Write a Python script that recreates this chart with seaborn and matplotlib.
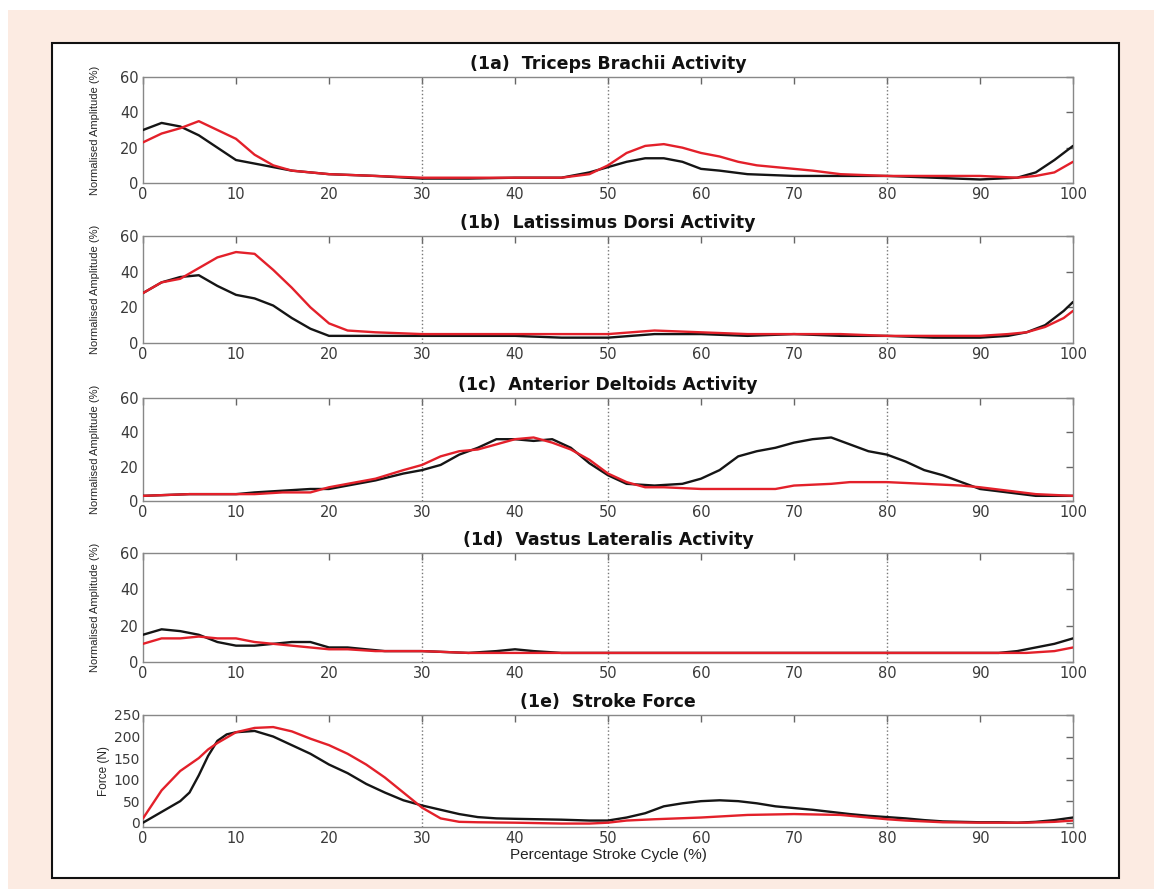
import matplotlib
matplotlib.use("Agg")
import matplotlib.pyplot as plt
import seaborn as sns
from matplotlib.patches import Rectangle

sns.set_theme(style="white")
plt.rcParams["font.family"] = ["DejaVu Sans"]

# Stroke cycle (%) sample points and values
# (1a) Triceps Brachii
tri_x_black = [0, 2, 4, 6, 8, 10, 12, 14, 16, 18, 20, 25, 30, 35, 40, 45, 48, 50, 52, 54, 56, 58,
               60, 62, 65, 70, 75, 80, 85, 90, 94, 96, 98, 100]
tri_black = [30, 34, 32, 27, 20, 13, 11, 9, 7, 6, 5, 4, 2.5, 2.5, 3, 3, 6, 9, 12, 14, 14, 12,
             8, 7, 5, 4, 4, 4, 3, 2, 3, 6, 13, 21]
tri_x_red = [0, 2, 4, 6, 8, 10, 12, 14, 16, 18, 20, 25, 30, 35, 40, 45, 48, 50, 52, 54, 56, 58,
             60, 62, 64, 66, 68, 70, 72, 75, 80, 85, 90, 94, 96, 98, 100]
tri_red = [23, 28, 31, 35, 30, 25, 16, 10, 7, 6, 5, 4, 3, 3, 3, 3, 5, 10, 17, 21, 22, 20,
           17, 15, 12, 10, 9, 8, 7, 5, 4, 4, 4, 3, 4, 6, 12]

# (1b) Latissimus Dorsi
lat_x_black = [0, 2, 4, 6, 8, 10, 12, 14, 16, 18, 20, 25, 30, 35, 40, 45, 50, 55, 60, 65, 70,
               75, 80, 85, 90, 93, 95, 97, 99, 100]
lat_black = [28, 34, 37, 38, 32, 27, 25, 21, 14, 8, 4, 4, 4, 4, 4, 3, 3, 5, 5, 4, 5,
             4, 4, 3, 3, 4, 6, 10, 18, 23]
lat_x_red = [0, 2, 4, 6, 8, 10, 12, 14, 16, 18, 20, 22, 25, 30, 35, 40, 45, 50, 55, 60, 65,
             70, 75, 80, 85, 90, 93, 95, 97, 99, 100]
lat_red = [28, 34, 36, 42, 48, 51, 50, 41, 31, 20, 11, 7, 6, 5, 5, 5, 5, 5, 7, 6, 5,
           5, 5, 4, 4, 4, 5, 6, 9, 14, 18]

# (1c) Anterior Deltoids
del_x_black = [0, 5, 10, 12, 15, 18, 20, 22, 25, 28, 30, 32, 34, 36, 38, 40, 42, 44, 46, 48,
               50, 52, 55, 58, 60, 62, 64, 66, 68, 70, 72, 74, 76, 78, 80, 82, 84, 86, 88,
               90, 93, 96, 100]
del_black = [3, 4, 4, 5, 6, 7, 7, 9, 12, 16, 18, 21, 27, 31, 36, 36, 35, 36, 31, 22,
             15, 10, 9, 10, 13, 18, 26, 29, 31, 34, 36, 37, 33, 29, 27, 23, 18, 15, 11,
             7, 5, 3, 3]
del_x_red = [0, 5, 10, 12, 15, 18, 20, 22, 25, 28, 30, 32, 34, 36, 38, 40, 42, 44, 46, 48,
             50, 52, 54, 56, 60, 65, 68, 70, 74, 76, 80, 84, 88, 90, 93, 96, 100]
del_red = [3, 4, 4, 4, 5, 5, 8, 10, 13, 18, 21, 26, 29, 30, 33, 36, 37, 34, 30, 24,
           16, 11, 8, 8, 7, 7, 7, 9, 10, 11, 11, 10, 9, 8, 6, 4, 3]

# (1d) Vastus Lateralis
vas_x_black = [0, 2, 4, 6, 8, 10, 12, 14, 16, 18, 20, 22, 24, 26, 30, 35, 38, 40, 42, 45,
               50, 60, 70, 80, 90, 92, 94, 96, 98, 100]
vas_black = [15, 18, 17, 15, 11, 9, 9, 10, 11, 11, 8, 8, 7, 6, 6, 5, 6, 7, 6, 5,
             5, 5, 5, 5, 5, 5, 6, 8, 10, 13]
vas_x_red = [0, 2, 4, 6, 8, 10, 12, 14, 16, 18, 20, 22, 25, 30, 35, 40, 45, 50, 60, 70,
             80, 90, 95, 98, 100]
vas_red = [10, 13, 13, 14, 13, 13, 11, 10, 9, 8, 7, 7, 6, 6, 5, 5, 5, 5, 5, 5,
           5, 5, 5, 6, 8]

# (1e) Stroke Force
frc_x_black = [0, 2, 4, 5, 6, 7, 8, 9, 10, 12, 14, 16, 18, 20, 22, 24, 26, 28, 30, 32, 34,
               36, 38, 40, 45, 48, 50, 52, 54, 56, 58, 60, 62, 64, 66, 68, 70, 72, 74, 76,
               78, 80, 82, 84, 86, 88, 90, 92, 94, 96, 98, 100]
frc_black = [0, 25, 50, 70, 110, 155, 190, 205, 210, 213, 200, 180, 160, 135, 115, 90, 70,
             52, 40, 30, 20, 13, 10, 9, 7, 5, 5, 12, 22, 38, 45, 50, 52, 50, 45, 38, 34,
             30, 25, 20, 16, 13, 10, 6, 3, 2, 1, 1, 0, 2, 6, 12]
frc_x_red = [0, 2, 4, 6, 7, 8, 10, 12, 14, 16, 18, 20, 22, 24, 26, 28, 30, 32, 34, 36, 40,
             45, 48, 50, 52, 55, 60, 65, 70, 75, 78, 80, 82, 84, 86, 90, 95, 98, 100]
frc_red = [10, 75, 120, 150, 170, 185, 210, 220, 222, 212, 195, 180, 160, 135, 105, 70,
           35, 10, 2, 1, 0, -2, -2, 0, 5, 8, 12, 18, 20, 18, 12, 8, 5, 3, 1, 0, 0, 2, 5]

titles = ["(1a)  Triceps Brachii Activity", "(1b)  Latissimus Dorsi Activity",
          "(1c)  Anterior Deltoids Activity", "(1d)  Vastus Lateralis Activity",
          "(1e)  Stroke Force"]
panels = [
    (tri_x_black, tri_black, tri_x_red, tri_red),
    (lat_x_black, lat_black, lat_x_red, lat_red),
    (del_x_black, del_black, del_x_red, del_red),
    (vas_x_black, vas_black, vas_x_red, vas_red),
    (frc_x_black, frc_black, frc_x_red, frc_red),
]
phase_marks = [30, 50, 80]

W, H = 1154, 889
fig = plt.figure(figsize=(W / 100, H / 100), dpi=100, facecolor="white")

# beige page and white framed panel
fig.patches.append(Rectangle((8 / W, 0), 1 - 8 / W, 1 - 10 / H, transform=fig.transFigure,
                             facecolor="#fcebe2", edgecolor="none", zorder=-2))
fig.patches.append(Rectangle((52 / W, 1 - 878 / H), (1119 - 52) / W, (878 - 43) / H,
                             transform=fig.transFigure, facecolor="white",
                             edgecolor="#111111", linewidth=1.5, zorder=-1))

# axes boxes in pixels (top, bottom)
boxes = [(77, 183), (236, 343), (398, 501), (553, 662), (715, 827)]
left, right = 143, 1073
narrow = ["Liberation Sans", "DejaVu Sans"]

for i, ((top, bot), (xb, yb, xr, yr)) in enumerate(zip(boxes, panels)):
    ax = fig.add_axes([left / W, 1 - bot / H, (right - left) / W, (bot - top) / H])
    ax.set_facecolor("white")
    for xm in phase_marks:
        ax.axvline(xm, color="#777777", linestyle=":", linewidth=1.0, zorder=1)
    sns.lineplot(x=xb, y=yb, ax=ax, color="#151515", linewidth=1.7, zorder=3)
    sns.lineplot(x=xr, y=yr, ax=ax, color="#e3202a", linewidth=1.7, zorder=3)
    ax.set_xlim(0, 100)
    ax.set_xticks(range(0, 101, 10))
    if i == 4:
        ax.set_ylim(-10, 250)
        ax.set_yticks(range(0, 251, 50))
        ax.set_ylabel("Force (N)", fontsize=8.5, family=narrow)
        ax.yaxis.set_label_coords(-0.036, 0.5)
        ax.set_xlabel("Percentage Stroke Cycle (%)", fontsize=11, labelpad=1,
                      color="#222222", family=narrow)
    else:
        ax.set_ylim(0, 60)
        ax.set_yticks([0, 20, 40, 60])
        ax.set_ylabel("Normalised Amplitude (%)", fontsize=8, family=narrow)
        ax.yaxis.set_label_coords(-0.046, 0.5)
        ax.set_xlabel("")
    ax.set_title(titles[i], fontsize=12.5, fontweight="bold", pad=6, color="#111111")
    ax.tick_params(direction="in", length=5, width=1, colors="#666666", labelcolor="#3a3a3a",
                   labelsize=10.5, top=True, right=True, pad=3)
    if i == 4:
        ax.tick_params(axis="y", labelsize=10, pad=2)
    for s in ax.spines.values():
        s.set_color("#888888")
        s.set_linewidth(1.0)

fig.savefig("out.png", dpi=100, facecolor=fig.get_facecolor())
